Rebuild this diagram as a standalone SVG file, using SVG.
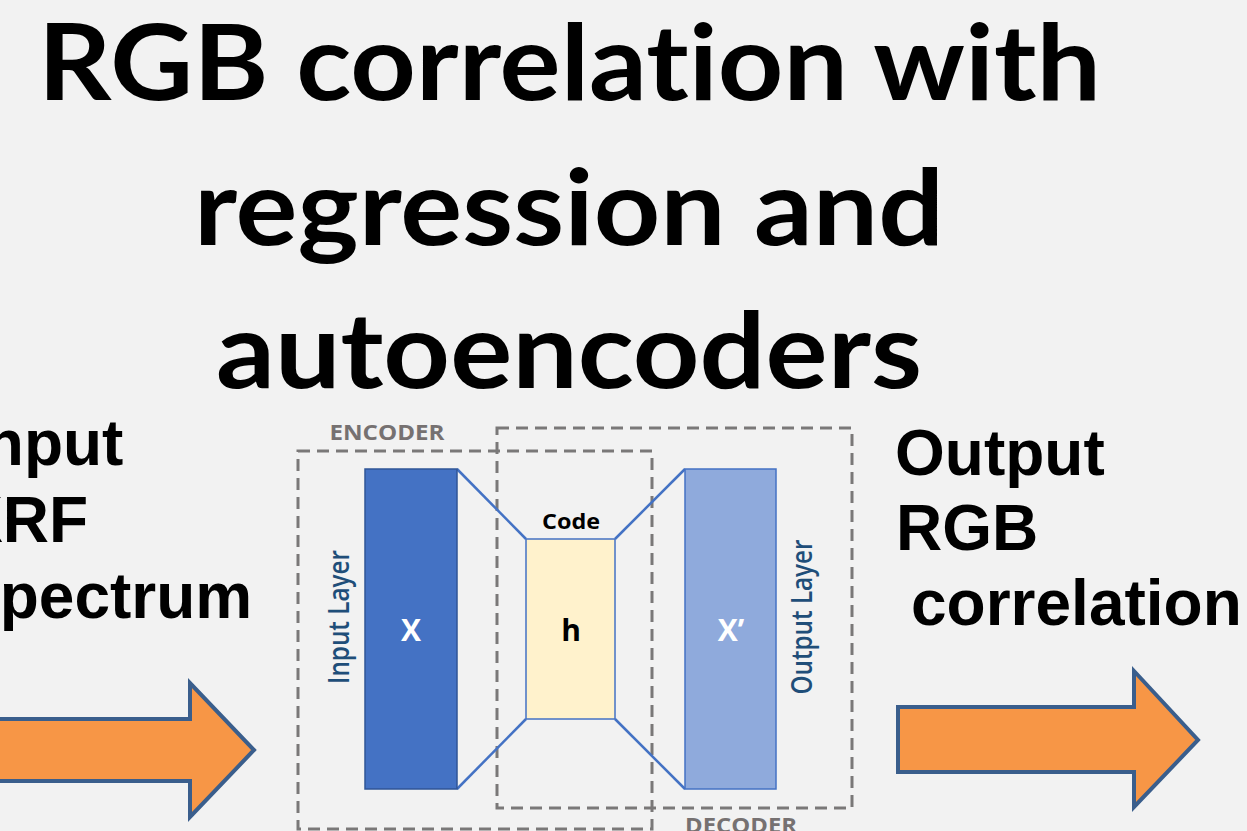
<svg xmlns="http://www.w3.org/2000/svg" width="1247" height="831" viewBox="0 0 1247 831">
  <style>
    .title { font-family: Lato, "Open Sans", "DejaVu Sans", sans-serif; font-weight: bold; font-size: 106px; fill: #000; font-variant-ligatures: none; font-feature-settings: "liga" 0, "clig" 0; }
    .side { font-family: "Liberation Sans", Arial, sans-serif; font-weight: bold; font-size: 64px; fill: #000; }
    .dash { fill: none; stroke: #7a7878; stroke-width: 3; stroke-dasharray: 12 7; }
    .boxlabel { font-family: "Open Sans", "Noto Sans", sans-serif; font-weight: bold; font-size: 21px; fill: #767171; }
    .layerlabel { font-family: "Open Sans", "Noto Sans", sans-serif; font-weight: 600; font-size: 28px; fill: #1F4E79; }
    .inner { font-family: "Open Sans", "Noto Sans", sans-serif; font-weight: bold; }
    .conn { stroke: #4472C4; stroke-width: 2.5; fill: none; }
    .arrow { fill: #F79646; stroke: #3A5E8C; stroke-width: 4; stroke-linejoin: miter; }
  </style>
  <rect x="0" y="0" width="1247" height="831" fill="#F2F2F2"/>

  <g id="title">
    <text class="title" x="38" y="100" textLength="1063" lengthAdjust="spacingAndGlyphs">RGB correlation with</text>
    <text class="title" x="194" y="245" textLength="750" lengthAdjust="spacingAndGlyphs">regression and</text>
    <text class="title" x="216" y="388" textLength="706" lengthAdjust="spacingAndGlyphs">autoencoders</text>
  </g>

  <g id="input-text">
    <text class="side" x="-33" y="465">Input</text>
    <text class="side" x="-40" y="542">XRF</text>
    <text class="side" x="-43" y="618">Spectrum</text>
  </g>

  <g id="output-text">
    <text class="side" x="895" y="475">Output</text>
    <text class="side" x="896" y="550">RGB</text>
    <text class="side" x="911" y="625">correlation</text>
  </g>

  <g id="input-arrow">
    <path class="arrow" d="M -10,719 L 190,719 L 190,683 L 254,750 L 190,817 L 190,781 L -10,781 Z"/>
  </g>
  <g id="output-arrow">
    <path class="arrow" d="M 898,707 L 1134,707 L 1134,671 L 1198,740 L 1134,807 L 1134,772 L 898,772 Z"/>
  </g>

  <g id="encoder">
    <rect class="dash" x="298" y="451" width="354" height="378"/>
    <text class="boxlabel" x="387" y="440" text-anchor="middle" textLength="115" lengthAdjust="spacingAndGlyphs">ENCODER</text>
  </g>
  <g id="decoder">
    <rect class="dash" x="497" y="428" width="355" height="380"/>
    <text class="boxlabel" x="741" y="833" text-anchor="middle" textLength="112" lengthAdjust="spacingAndGlyphs">DECODER</text>
  </g>

  <g id="connectors">
    <line class="conn" x1="457" y1="469" x2="526" y2="539"/>
    <line class="conn" x1="457" y1="789" x2="526" y2="719"/>
    <line class="conn" x1="615" y1="539" x2="685" y2="469"/>
    <line class="conn" x1="615" y1="719" x2="685" y2="789"/>
  </g>

  <g id="input-layer">
    <rect x="365" y="469" width="92" height="320" fill="#4472C4" stroke="#2F5597" stroke-width="1.5"/>
    <text class="inner" x="411" y="641" font-size="30" fill="#FFFFFF" text-anchor="middle">X</text>
    <text class="layerlabel" transform="translate(349,617) rotate(-90)" text-anchor="middle" textLength="134" lengthAdjust="spacingAndGlyphs">Input Layer</text>
  </g>

  <g id="code">
    <rect x="526" y="539" width="89" height="180" fill="#FFF2CC" stroke="#4472C4" stroke-width="1.5"/>
    <text class="inner" x="571" y="529" font-size="22" fill="#000" text-anchor="middle" textLength="58" lengthAdjust="spacingAndGlyphs">Code</text>
    <text class="inner" x="571" y="641" font-size="30" fill="#000" text-anchor="middle">h</text>
  </g>

  <g id="output-layer">
    <rect x="685" y="469" width="91" height="320" fill="#8FAADC" stroke="#4472C4" stroke-width="1.5"/>
    <text class="inner" x="731" y="641" font-size="30" fill="#FFFFFF" text-anchor="middle">X’</text>
    <text class="layerlabel" transform="translate(812,617) rotate(-90)" text-anchor="middle" textLength="155" lengthAdjust="spacingAndGlyphs">Output Layer</text>
  </g>
</svg>
